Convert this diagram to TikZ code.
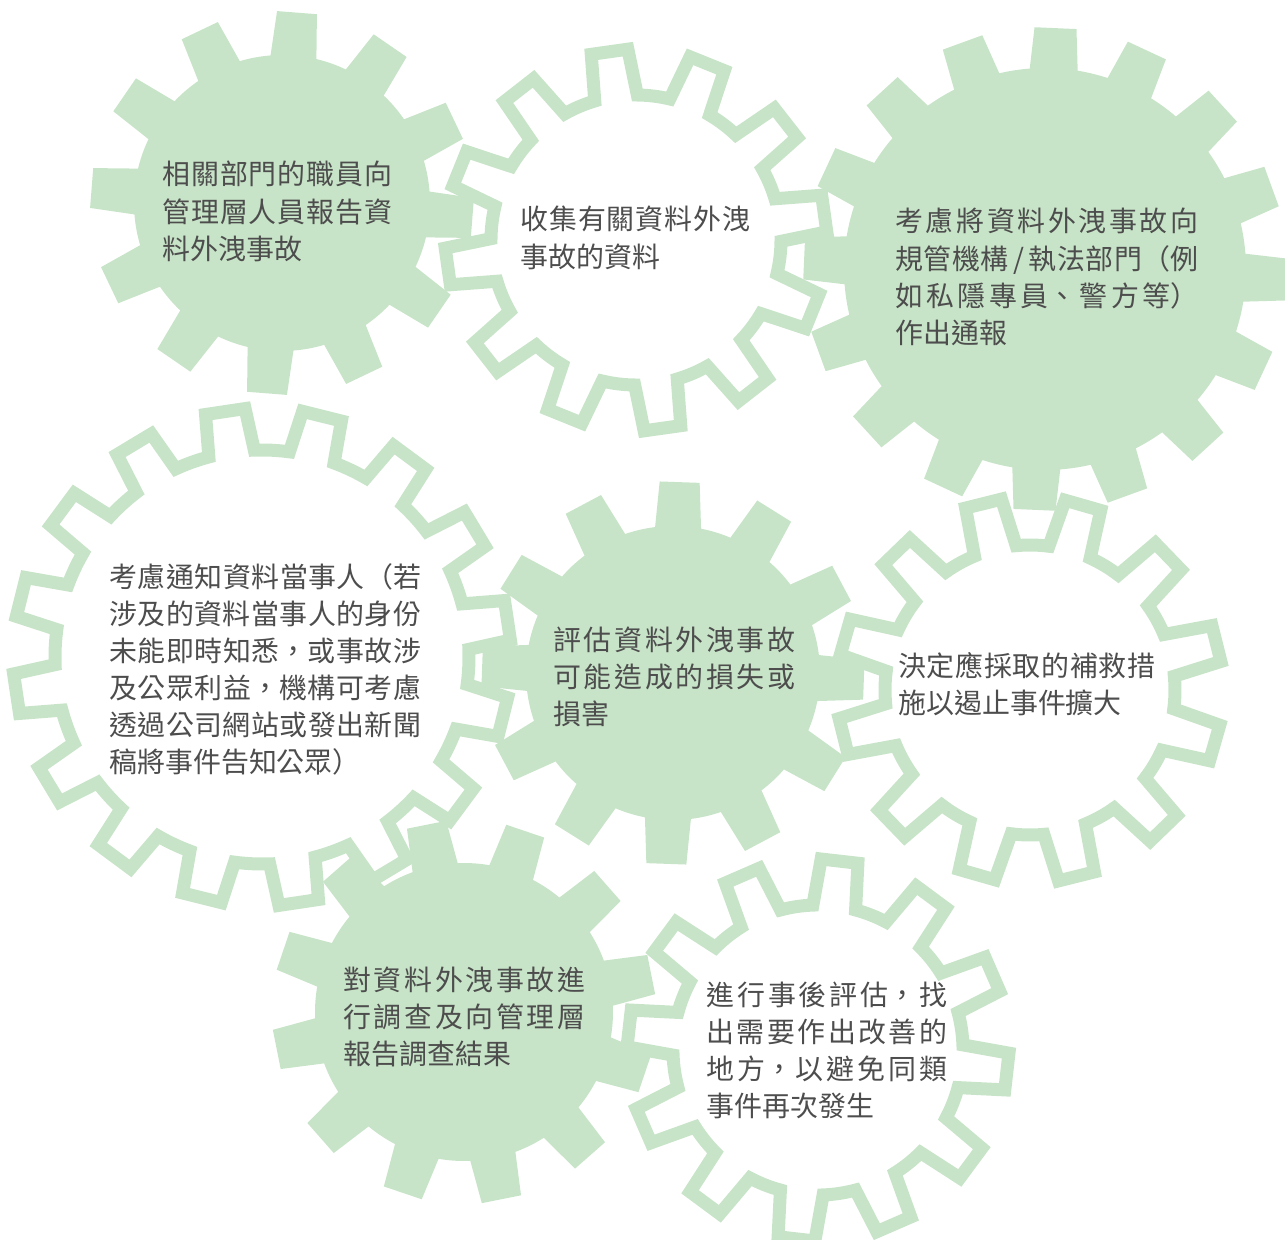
\documentclass[tikz,border=0pt]{standalone}
\usepackage{fontspec}
\newfontfamily\tcfont[Kerning=Off, Script=CJK, Language=Chinese Traditional]{Noto Sans CJK TC}
\definecolor{gearg}{HTML}{C8E4C8}
\definecolor{geartxt}{HTML}{4D4D4D}
\XeTeXlinebreaklocale "zh"
\XeTeXlinebreakskip=0pt plus 8pt
\setlength{\parindent}{0pt}

% gear: centre x, centre y (px), teeth, first tooth angle, root r, tip r, root width, tip width, style
\newcommand{\gearshape}[9]{%
  \begin{scope}[shift={(#1,-#2)}]
    \path[#9] ({#4-asin(#7/(2*#5))}:#5)
      \foreach \g [evaluate=\g as \ga using {#4+(\g-1)*360/#3}] in {1,...,#3}{
        -- ({\ga-asin(#7/(2*#5))}:#5)
        -- ({\ga-asin(#8/(2*#6))}:#6)
        -- ({\ga+asin(#8/(2*#6))}:#6)
        -- ({\ga+asin(#7/(2*#5))}:#5)
        arc[start angle={\ga+asin(#7/(2*#5))}, end angle={\ga+360/#3-asin(#7/(2*#5))}, radius=#5]
      } -- cycle;
  \end{scope}}

\tikzset{
  gfill/.style={fill=gearg},
  gline/.style={fill=white, draw=gearg, line width=0.26cm, line join=miter},
  gtext/.style={font=\tcfont\fontsize{15.9}{21.1}\selectfont, text=geartxt,
    align=justify, inner sep=0pt, anchor=base west}
}

\begin{document}
\begin{tikzpicture}[x=0.02cm, y=0.02cm]
    \useasboundingbox (0,0) rectangle (1285,-1240);
    %filled gears
    \gearshape{282}{203}{12}{85.5}{148}{192}{46}{40}{gfill}
    \gearshape{1045}{269}{16}{87.5}{201}{242}{48}{42}{gfill}
    \gearshape{673}{673}{12}{88}{147}{192}{46}{40}{gfill}
    \gearshape{464}{1012}{12}{101.3}{149}{192}{46}{40}{gfill}
    %outlined gears
    \gearshape{636}{240}{12}{98}{145}{191}{43}{37}{gline}
    \gearshape{262}{657}{16}{98.5}{207}{249}{46}{40}{gline}
    \gearshape{1030}{690}{12}{14}{145}{193}{43}{37}{gline}
    \gearshape{818}{1050}{12}{83.5}{145}{191}{43}{37}{gline}
    %steps
    \node[gtext, text width=4.6cm] (report) at (162,-185) {相關部門的職員向\linebreak 管理層人員報告資\linebreak 料外洩事故};
    \node[gtext, text width=4.6cm] (collect) at (520,-230) {收集有關資料外洩\linebreak 事故的資料};
    \node[gtext, text width=6.06cm] (notify) at (895,-232) {考慮將資料外洩事故向\linebreak 規管機構\,/\,執法部門（例\linebreak 如私隱專員、警方等）\linebreak 作出通報};
    \node[gtext, text width=6.24cm] (subjects) at (109,-587) {考慮通知資料當事人（若\linebreak 涉及的資料當事人的身份\linebreak 未能即時知悉，或事故涉\linebreak 及公眾利益，機構可考慮\linebreak 透過公司網站或發出新聞\linebreak 稿將事件告知公眾）};
    \node[gtext, text width=4.84cm] (assess) at (553,-650) {評估資料外洩事故\linebreak 可能造成的損失或\linebreak 損害};
    \node[gtext, text width=5.14cm] (remedy) at (898,-676) {決定應採取的補救措\linebreak 施以遏止事件擴大};
    \node[gtext, text width=4.84cm] (investigate) at (343,-990) {對資料外洩事故進\linebreak 行調查及向管理層\linebreak 報告調查結果};
    \node[gtext, text width=4.82cm] (review) at (706,-1005) {進行事後評估，找\linebreak 出需要作出改善的\linebreak 地方，以避免同類\linebreak 事件再次發生};
\end{tikzpicture}
\end{document}
